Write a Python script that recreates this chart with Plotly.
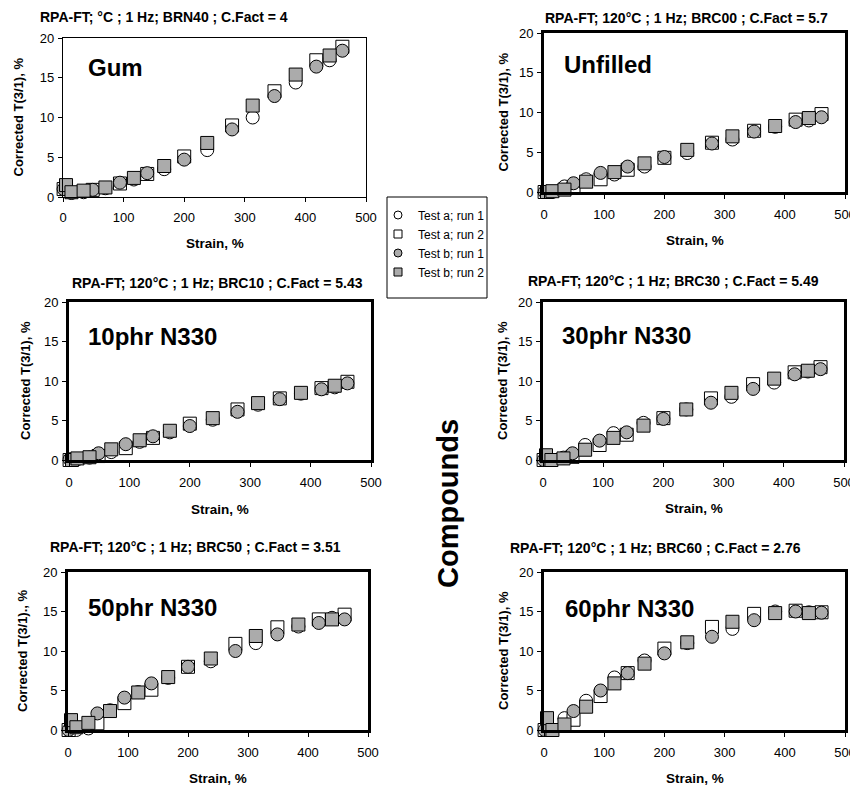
import plotly.graph_objects as go

# ---------------- data ----------------
strain_s1 = [1, 49, 94, 139, 200, 279, 349, 418, 461]          # test a run 2 / test b run 1
strain_s2 = [5, 14, 34, 70, 117, 167, 238, 313, 384, 440]      # test a run 1 / test b run 2

panel_names = ["Gum", "Unfilled", "10phr N330", "30phr N330", "50phr N330", "60phr N330"]
panel_titles = [
    "RPA-FT; °C ; 1 Hz; BRN40 ; C.Fact = 4",
    "RPA-FT; 120°C ; 1 Hz; BRC00 ; C.Fact = 5.7",
    "RPA-FT; 120°C ; 1 Hz; BRC10 ; C.Fact = 5.43",
    "RPA-FT; 120°C ; 1 Hz; BRC30 ; C.Fact = 5.49",
    "RPA-FT; 120°C ; 1 Hz; BRC50 ; C.Fact = 3.51",
    "RPA-FT; 120°C ; 1 Hz; BRC60 ; C.Fact = 2.76",
]
y_titles = ["Corrected T(3/1), %"] * 4 + ["Corrected T(3/1)., %", "Corrected T(3/1), %"]
x_title = "Strain, %"
series_names = ["Test a; run 1", "Test a; run 2", "Test b; run 1", "Test b; run 2"]

gum_a1 = [1.2, 0.5, 0.6, 1.1, 2.2, 3.5, 5.9, 10.0, 14.4, 17.2]
gum_a2 = [1.0, 0.9, 1.7, 2.9, 5.1, 9.0, 13.3, 17.2, 18.9]
gum_b1 = [1.0, 0.9, 1.8, 3.0, 4.7, 8.5, 12.7, 16.4, 18.4]
gum_b2 = [1.5, 0.6, 0.8, 1.2, 2.4, 3.9, 6.8, 11.5, 15.4, 17.8]

unf_a1 = [0.0, 0.0, 0.7, 1.6, 2.2, 3.2, 4.9, 6.6, 8.2, 9.0]
unf_a2 = [0.0, 0.5, 1.6, 2.8, 4.3, 6.2, 7.7, 9.1, 9.8]
unf_b1 = [0.0, 1.1, 2.4, 3.2, 4.4, 6.1, 7.6, 8.8, 9.4]
unf_b2 = [0.0, 0.1, 0.3, 1.3, 2.5, 3.6, 5.3, 7.0, 8.3, 9.3]

p10_a1 = [0.0, 0.1, 0.3, 1.0, 2.3, 3.5, 5.1, 7.0, 8.4, 9.2]
p10_a2 = [0.0, 0.5, 1.5, 2.8, 4.6, 6.4, 7.8, 9.1, 9.9]
p10_b1 = [0.1, 0.85, 2.0, 3.0, 4.3, 6.1, 7.7, 8.95, 9.7]
p10_b2 = [0.0, 0.2, 0.35, 1.35, 2.5, 3.7, 5.3, 7.2, 8.5, 9.4]

p30_a1 = [0.3, 0.0, 0.3, 1.9, 3.4, 4.7, 6.4, 8.0, 9.8, 11.2]
p30_a2 = [0.0, 0.4, 1.9, 3.2, 5.3, 7.8, 9.6, 11.1, 11.75]
p30_b1 = [0.0, 0.85, 2.45, 3.5, 5.2, 7.25, 9.0, 10.85, 11.5]
p30_b2 = [0.6, 0.0, 0.2, 1.3, 2.8, 4.35, 6.4, 8.5, 10.3, 11.3]

p50_a1 = [0.0, 0.0, 0.2, 2.5, 4.8, 6.6, 8.7, 11.0, 13.1, 14.2]
p50_a2 = [0.0, 0.85, 3.4, 5.1, 8.0, 10.9, 13.0, 14.0, 14.6]
p50_b1 = [0.0, 2.1, 4.1, 5.9, 8.0, 10.0, 12.1, 13.55, 14.0]
p50_b2 = [1.25, 0.35, 0.9, 2.4, 4.75, 6.7, 9.05, 11.9, 13.35, 14.0]

p60_a1 = [0.0, 0.0, 1.5, 3.7, 6.65, 8.8, 11.0, 12.8, 15.0, 14.9]
p60_a2 = [0.0, 1.3, 4.3, 7.2, 10.3, 13.05, 14.7, 15.1, 14.9]
p60_b1 = [0.0, 2.4, 5.0, 7.2, 9.7, 11.8, 13.9, 15.0, 14.85]
p60_b2 = [1.5, 0.0, 0.7, 2.95, 5.9, 8.4, 11.1, 13.7, 14.8, 14.8]

x_ticks = [0, 100, 200, 300, 400, 500]
y_ticks = [0, 5, 10, 15, 20]

panel_series = [
    (gum_a1, gum_a2, gum_b1, gum_b2),
    (unf_a1, unf_a2, unf_b1, unf_b2),
    (p10_a1, p10_a2, p10_b1, p10_b2),
    (p30_a1, p30_a2, p30_b1, p30_b2),
    (p50_a1, p50_a2, p50_b1, p50_b2),
    (p60_a1, p60_a2, p60_b1, p60_b2),
]

# ---------------- layout geometry (window pixels) ----------------
WIN_W, WIN_H = 858, 787
PAGE_MARGIN = 8            # default body margin of the html page
W, H = WIN_W - PAGE_MARGIN, WIN_H - PAGE_MARGIN
# plot-area boxes: (left, right, top, bottom)
boxes = [
    (63, 366, 38, 197),
    (544, 845, 33, 192),
    (69, 371, 302, 460),
    (543, 844, 302, 460),
    (68, 368, 572, 730),
    (544, 845, 572, 730),
]
border_w = [1.2, 3, 3, 3, 3, 3]
title_pos = [(164, 17), (686, 18), (217, 283), (673, 281), (195, 547), (655, 548)]
ytitle_x = [18, 503, 25, 502, 22, 503]
xtitle_y = [243, 240, 510, 508, 778, 778]
label_off = [(23, 30), (18, 32), (17, 35), (17, 33), (18, 35), (19, 36)]
legend_box = (387, 197, 487, 298)

FONT = "Liberation Sans, Arial, sans-serif"
GRAY = "#ababab"

def px(x):
    return (x - PAGE_MARGIN) / W

def py(y):
    return 1 - (y - PAGE_MARGIN) / H

# symbol, fill colour per series
styles = [("circle", "white"), ("square", "white"), ("circle", GRAY), ("square", GRAY)]

fig = go.Figure()
annotations = []
layout_axes = {}

for i, (series, box) in enumerate(zip(panel_series, boxes)):
    n = i + 1
    xa = "x" if n == 1 else f"x{n}"
    ya = "y" if n == 1 else f"y{n}"
    xs = [strain_s2, strain_s1, strain_s1, strain_s2]
    for j, (yv, xv) in enumerate(zip(series, xs)):
        sym, fill = styles[j]
        fig.add_trace(go.Scatter(
            x=xv, y=yv, mode="markers", xaxis=xa, yaxis=ya,
            name=series_names[j], showlegend=False, cliponaxis=False,
            marker=dict(symbol=sym, size=13, color=fill,
                        line=dict(color="black", width=1)),
        ))
    l, r, t, b = box
    axis_common = dict(showline=True, mirror=True, linecolor="black",
                       linewidth=border_w[i], ticks="outside", ticklen=4,
                       tickwidth=1, tickcolor="black", showgrid=False,
                       zeroline=False, automargin=False,
                       tickfont=dict(family=FONT, size=13, color="black"))
    layout_axes[f"xaxis{'' if n == 1 else n}"] = dict(
        domain=[px(l), px(r)], anchor=ya, range=[0, 500],
        tickvals=x_ticks, ticklabelstandoff=4, **axis_common)
    layout_axes[f"yaxis{'' if n == 1 else n}"] = dict(
        domain=[py(b), py(t)], anchor=xa, range=[0, 20],
        tickvals=y_ticks, ticklabelstandoff=1, **axis_common)

    # panel label
    ox, oy = label_off[i]
    annotations.append(dict(
        x=px(l + ox), y=py(t + oy), xref="paper", yref="paper",
        text=f"<b>{panel_names[i]}</b>", showarrow=False,
        xanchor="left", yanchor="middle",
        font=dict(family=FONT, size=24, color="black")))
    # title
    tx, ty = title_pos[i]
    annotations.append(dict(
        x=px(tx), y=py(ty), xref="paper", yref="paper",
        text=f"<b>{panel_titles[i]}</b>", showarrow=False,
        xanchor="center", yanchor="middle",
        font=dict(family=FONT, size=14, color="black")))
    # y title
    annotations.append(dict(
        x=px(ytitle_x[i]), y=py((t + b) / 2), xref="paper", yref="paper",
        text=f"<b>{y_titles[i]}</b>", showarrow=False, textangle=-90,
        xanchor="center", yanchor="middle",
        font=dict(family=FONT, size=13, color="black")))
    # x title
    annotations.append(dict(
        x=px((l + r) / 2), y=py(xtitle_y[i]), xref="paper", yref="paper",
        text=f"<b>{x_title}</b>", showarrow=False,
        xanchor="center", yanchor="middle",
        font=dict(family=FONT, size=13.5, color="black")))

# central vertical label
annotations.append(dict(
    x=px(448), y=py(504), xref="paper", yref="paper",
    text="<b>Compounds</b>", showarrow=False, textangle=-90,
    xanchor="center", yanchor="middle",
    font=dict(family=FONT, size=29, color="black")))

# legend-only entries (small markers, as in the reference legend)
for j in range(4):
    sym, fill = styles[j]
    fig.add_trace(go.Scatter(
        x=[None], y=[None], mode="markers", name=series_names[j],
        marker=dict(symbol=sym, size=8, color=fill,
                    line=dict(color="black", width=1)),
        showlegend=True))

lx0, ly0, lx1, ly1 = legend_box
fig.update_layout(
    width=W, height=H,
    margin=dict(l=0, r=0, t=0, b=0, autoexpand=False),
    paper_bgcolor="white", plot_bgcolor="white",
    showlegend=True,
    legend=dict(x=px(lx0 - 9), y=py((ly0 + ly1) / 2 - 4), xanchor="left", yanchor="middle",
                borderwidth=0, bgcolor="rgba(0,0,0,0)",
                font=dict(family=FONT, size=12, color="black"),
                itemwidth=30),
    shapes=[dict(type="rect", xref="paper", yref="paper",
                 x0=px(lx0), x1=px(lx1), y0=py(ly1), y1=py(ly0),
                 line=dict(color="black", width=1), fillcolor="rgba(0,0,0,0)")],
    annotations=annotations,
    **layout_axes,
)

fig.write_html("out.html")
